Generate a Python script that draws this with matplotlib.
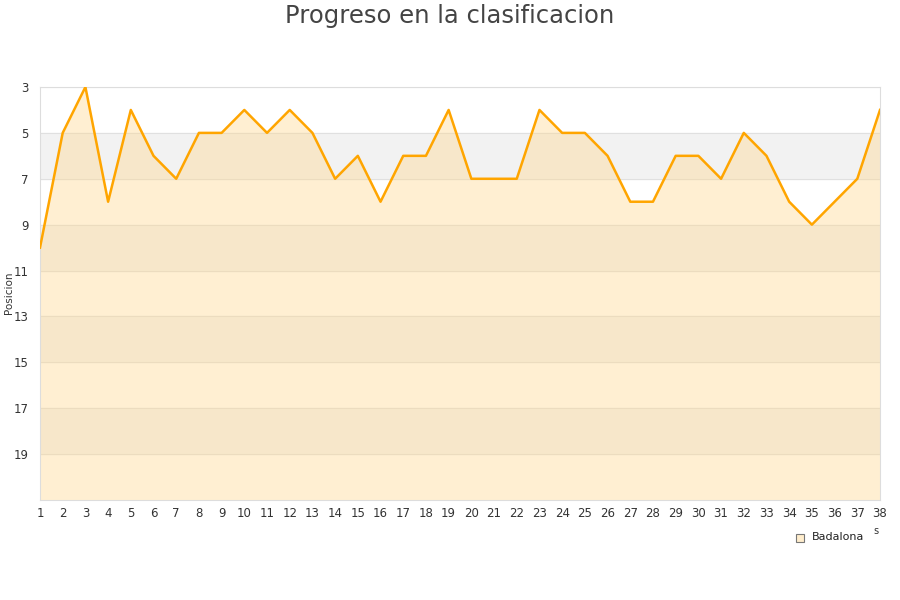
import matplotlib
matplotlib.use("Agg")
import matplotlib.pyplot as plt

# jornadas y posicion de Badalona
jornadas = list(range(1, 39))
posicion = [10, 5, 3, 8, 4, 6, 7, 5, 5, 4, 5, 4, 5, 7, 6, 8, 6, 6, 4, 7,
            7, 7, 4, 5, 5, 6, 8, 8, 6, 6, 7, 5, 6, 8, 9, 8, 7, 4]
y_ticks = [3, 5, 7, 9, 11, 13, 15, 17, 19]
equipo = "Badalona"

fig = plt.figure(figsize=(9, 6), dpi=100)
ax = fig.add_axes([40 / 900, 100 / 600, 840 / 900, 413 / 600])

# bandas grises alternas
for lo in [5, 9, 13, 17]:
    ax.axhspan(lo, lo + 2, color="#f2f2f2", zorder=0)
for y in y_ticks:
    ax.axhline(y, color="#e0e0e0", lw=0.8, zorder=1)

ax.fill_between(jornadas, posicion, 21, color="#ffd88f", alpha=0.4, lw=0, zorder=2)
ax.plot(jornadas, posicion, color="#ffa500", lw=1.8, zorder=3)

ax.set_xlim(1, 38)
ax.set_ylim(21, 3)
ax.set_yticks(y_ticks)
ax.set_xticks(jornadas)
ax.tick_params(axis="both", length=0, labelsize=8.5, colors="#333333")
ax.tick_params(axis="x", pad=5)
ax.tick_params(axis="y", pad=8)
for s in ax.spines.values():
    s.set_color("#dddddd")
fig.text(9 / 900, 1 - 293 / 600, "Posicion", fontsize=7.5, color="#333333",
         rotation=90, ha="center", va="center")

fig.text(0.5, 1 - 16 / 600, "Progreso en la clasificacion", fontsize=17.5,
         color="#444444", ha="center", va="center")

# leyenda
fig.patches.append(plt.Rectangle((796 / 900, 1 - 542 / 600), 8 / 900, 8 / 600,
                                 transform=fig.transFigure, facecolor="#ffedcc",
                                 edgecolor="#777777", lw=0.8))
fig.text(812 / 900, 1 - 537 / 600, equipo, fontsize=8, color="#222222", va="center")
fig.text(873 / 900, 1 - 531 / 600, "s", fontsize=7, color="#333333", va="center")

fig.savefig("out.png")
